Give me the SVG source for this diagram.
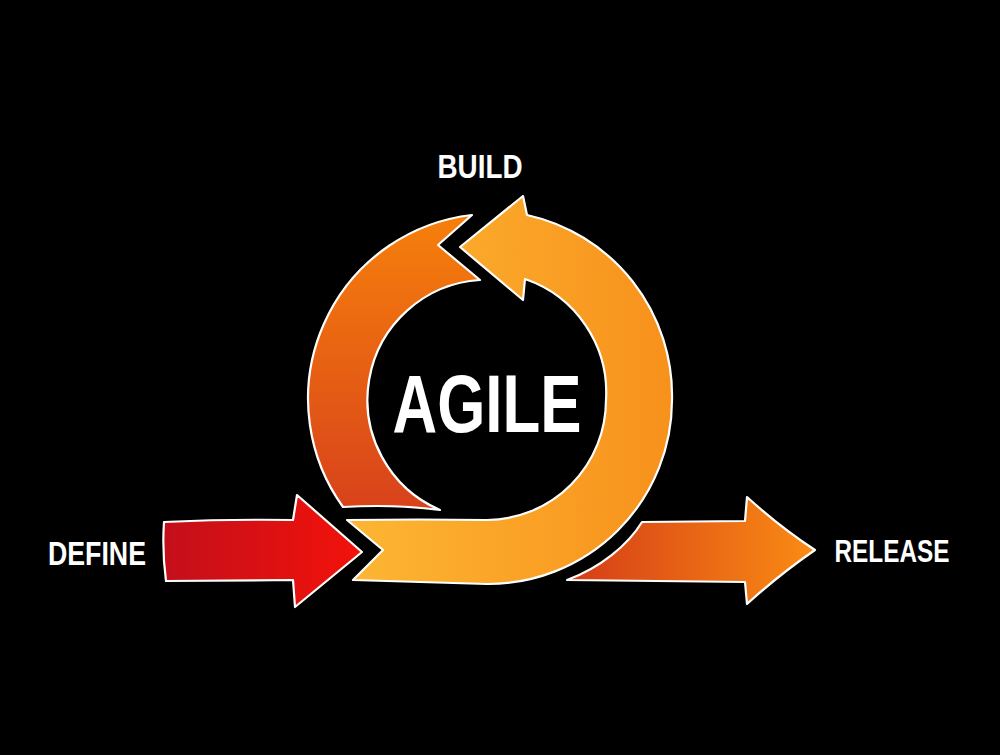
<svg xmlns="http://www.w3.org/2000/svg" width="1000" height="755" viewBox="0 0 1000 755">
  <defs>
    <linearGradient id="gLeft" gradientUnits="userSpaceOnUse" x1="0" y1="215" x2="0" y2="510">
      <stop offset="0" stop-color="#F6800B"/>
      <stop offset="1" stop-color="#D8421B"/>
    </linearGradient>
    <linearGradient id="gRight" gradientUnits="userSpaceOnUse" x1="347" y1="0" x2="673" y2="0">
      <stop offset="0" stop-color="#FDB634"/>
      <stop offset="1" stop-color="#F7911B"/>
    </linearGradient>
    <linearGradient id="gDefine" gradientUnits="userSpaceOnUse" x1="164" y1="0" x2="362" y2="0">
      <stop offset="0" stop-color="#C30F1B"/>
      <stop offset="1" stop-color="#F3120A"/>
    </linearGradient>
    <linearGradient id="gRelease" gradientUnits="userSpaceOnUse" x1="567" y1="0" x2="815" y2="0">
      <stop offset="0" stop-color="#D53C17"/>
      <stop offset="1" stop-color="#FA8C14"/>
    </linearGradient>
  </defs>
  <style>
    .shape { stroke: #FFFFFF; stroke-width: 2.2; stroke-linejoin: round; }
    .lbl { font-family: "Liberation Sans", "DejaVu Sans", sans-serif; font-weight: bold; fill: #FFFFFF; }
  </style>
  <rect x="0" y="0" width="1000" height="755" fill="#000000"/>

  <g id="connectors">
    <path id="define-arrow" class="shape" fill="url(#gDefine)" d="M164,522 Q230,519 293,520 L297,495 L362,552 L295,607 L293,580 L166,581 Q162,551 164,522 Z"/>
    <path id="release-arrow" class="shape" fill="url(#gRelease)" d="M567,580 C600,568 628,545 642,522 L745,521 L747,497 Q780,527 815,550 Q780,574 747,604 L745,582 Z"/>
  </g>

  <g id="cycle">
    <path id="build-arc" class="shape" fill="url(#gLeft)" d="M343,507 A185,185 0 0 1 472,215 L438,245 L480,280 A120,120 0 0 0 440,510 Q395,504 343,507 Z"/>
    <path id="loop-arc" class="shape" fill="url(#gRight)" d="M460,247 L523,300 L525,279 A120,120 0 0 1 606,400 A120,120 0 0 1 487,520 Q420,519 347,520 L383,550 L353,580 Q420,582 487,584 A184,184 0 0 0 672,400 A185,185 0 0 0 527,215 L523,196 Z"/>
  </g>

  <g id="node-agile">
    <text class="lbl" x="487" y="432" font-size="82" textLength="189" lengthAdjust="spacingAndGlyphs" text-anchor="middle">AGILE</text>
  </g>
  <g id="node-build">
    <text class="lbl" x="480" y="178" font-size="34" textLength="85" lengthAdjust="spacingAndGlyphs" text-anchor="middle">BUILD</text>
  </g>
  <g id="node-define">
    <text class="lbl" x="97" y="565" font-size="33" textLength="98" lengthAdjust="spacingAndGlyphs" text-anchor="middle">DEFINE</text>
  </g>
  <g id="node-release">
    <text class="lbl" x="892" y="562" font-size="32" textLength="115" lengthAdjust="spacingAndGlyphs" text-anchor="middle">RELEASE</text>
  </g>
</svg>
